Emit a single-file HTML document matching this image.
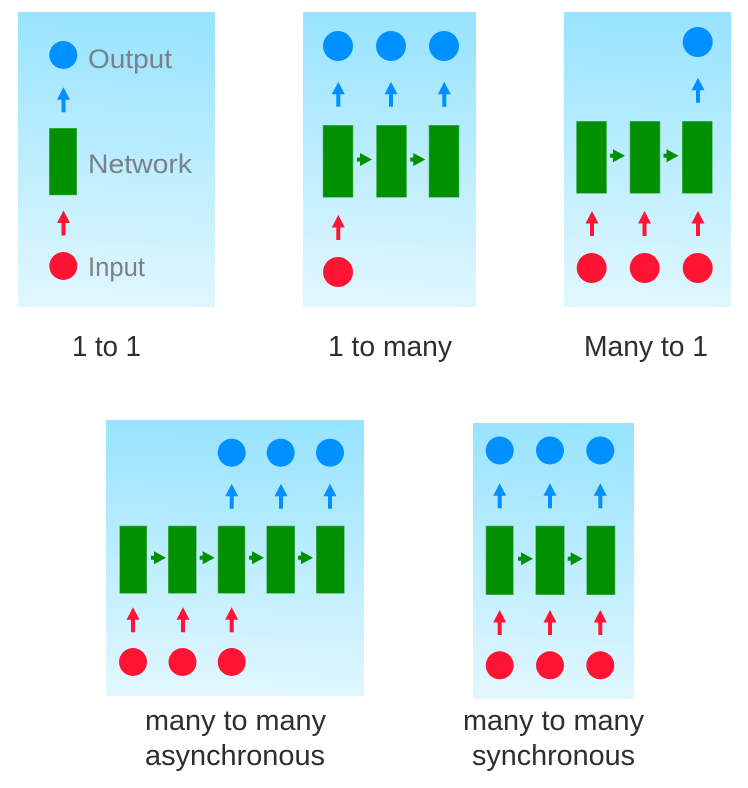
<!DOCTYPE html>
<html lang="en">
<head>
<meta charset="utf-8">
<title>RNN input-output configurations</title>
<style>
html,body{margin:0;padding:0;background:#fff;width:748px;height:788px;overflow:hidden}
svg{display:block}
.c{font-family:"Liberation Sans",sans-serif;font-size:28.6px;fill:#2e2e2e}
.l{font-family:"Liberation Sans",sans-serif;font-size:27px;fill:#7b8186}
.net{fill:#009000;stroke:#4fb85f;stroke-width:.6}
.o{fill:#0090ff}
.i{fill:#ff1433}
.g{fill:#009000}
</style>
</head>
<body>
<svg xmlns="http://www.w3.org/2000/svg" width="748" height="788" viewBox="0 0 748 788">
<defs>
<linearGradient id="sky" x1="0.52" y1="0" x2="0.48" y2="1">
<stop offset="0" stop-color="#97e3ff"/>
<stop offset="1" stop-color="#e1f7ff"/>
</linearGradient>
<g id="up"><path d="M-2 0V-12.5H-6.5L0-25L6.5-12.5H2V0Z"/></g>
<g id="right"><path d="M0-2H3V-6.5L15 0L3 6.5V2H0Z"/></g>
</defs>

<g>
<rect x="18" y="12" width="197" height="295" fill="url(#sky)"/>
<circle class="o" cx="63.3" cy="55" r="14"/>
<use href="#up" class="o" x="63.5" y="112.3"/>
<rect class="net" x="49.3" y="128.3" width="27.4" height="66.7"/>
<use href="#up" class="i" x="63.5" y="235.5"/>
<circle class="i" cx="63.3" cy="266" r="14"/>
<text class="l" x="88" y="68" textLength="84" lengthAdjust="spacingAndGlyphs">Output</text>
<text class="l" x="88" y="173" textLength="104" lengthAdjust="spacingAndGlyphs">Network</text>
<text class="l" x="88" y="276" textLength="57" lengthAdjust="spacingAndGlyphs">Input</text>
</g>
<text class="c" x="72" y="356" textLength="69" lengthAdjust="spacingAndGlyphs">1 to 1</text>

<g>
<rect x="303" y="12" width="173" height="295" fill="url(#sky)"/>
<circle class="o" cx="338" cy="46" r="15"/>
<circle class="o" cx="391" cy="46" r="15"/>
<circle class="o" cx="444" cy="46" r="15"/>
<use href="#up" class="o" x="338.3" y="106.7"/>
<use href="#up" class="o" x="391" y="106.7"/>
<use href="#up" class="o" x="444.3" y="106.7"/>
<rect class="net" x="323" y="125.3" width="30" height="72"/>
<rect class="net" x="376.5" y="125.3" width="30" height="72"/>
<rect class="net" x="429" y="125.3" width="30" height="72"/>
<use href="#right" class="g" x="357" y="159.5"/>
<use href="#right" class="g" x="410.3" y="159.5"/>
<use href="#up" class="i" x="338.3" y="240"/>
<circle class="i" cx="338" cy="272" r="15"/>
</g>
<text class="c" x="328" y="356" textLength="124" lengthAdjust="spacingAndGlyphs">1 to many</text>

<g>
<rect x="564" y="12" width="167" height="295" fill="url(#sky)"/>
<circle class="o" cx="697.7" cy="42" r="15"/>
<use href="#up" class="o" x="698" y="102.7"/>
<rect class="net" x="576.5" y="121.3" width="30" height="72"/>
<rect class="net" x="630" y="121.3" width="30" height="72"/>
<rect class="net" x="682.3" y="121.3" width="30" height="72"/>
<use href="#right" class="g" x="610" y="155.7"/>
<use href="#right" class="g" x="663.5" y="155.7"/>
<use href="#up" class="i" x="592" y="236"/>
<use href="#up" class="i" x="644.5" y="236"/>
<use href="#up" class="i" x="698" y="236"/>
<circle class="i" cx="591.7" cy="268" r="15"/>
<circle class="i" cx="644.7" cy="268" r="15"/>
<circle class="i" cx="697.7" cy="268" r="15"/>
</g>
<text class="c" x="584" y="356" textLength="124" lengthAdjust="spacingAndGlyphs">Many to 1</text>

<g>
<rect x="106" y="420" width="258" height="276" fill="url(#sky)"/>
<circle class="o" cx="231.7" cy="452.7" r="14"/>
<circle class="o" cx="280.7" cy="452.7" r="14"/>
<circle class="o" cx="330" cy="452.7" r="14"/>
<use href="#up" class="o" x="231.7" y="508.7"/>
<use href="#up" class="o" x="281" y="508.7"/>
<use href="#up" class="o" x="330" y="508.7"/>
<rect class="net" x="119.7" y="526" width="27" height="67.3"/>
<rect class="net" x="168.3" y="526" width="28" height="67.3"/>
<rect class="net" x="218" y="526" width="27" height="67.3"/>
<rect class="net" x="266.7" y="526" width="28" height="67.3"/>
<rect class="net" x="316.3" y="526" width="28" height="67.3"/>
<use href="#right" class="g" x="151" y="557.7"/>
<use href="#right" class="g" x="199.7" y="557.7"/>
<use href="#right" class="g" x="249" y="557.7"/>
<use href="#right" class="g" x="298" y="557.7"/>
<use href="#up" class="i" x="133" y="632.3"/>
<use href="#up" class="i" x="183" y="632.3"/>
<use href="#up" class="i" x="231.7" y="632.3"/>
<circle class="i" cx="133" cy="662" r="14"/>
<circle class="i" cx="182.5" cy="662" r="14"/>
<circle class="i" cx="231.7" cy="662" r="14"/>
</g>
<text class="c" x="145" y="730" textLength="181" lengthAdjust="spacingAndGlyphs">many to many</text>
<text class="c" x="145" y="765" textLength="180" lengthAdjust="spacingAndGlyphs">asynchronous</text>

<g>
<rect x="473" y="423" width="161" height="276" fill="url(#sky)"/>
<circle class="o" cx="499.7" cy="450.5" r="14"/>
<circle class="o" cx="550" cy="450.5" r="14"/>
<circle class="o" cx="600.3" cy="450.5" r="14"/>
<use href="#up" class="o" x="499.7" y="508.3"/>
<use href="#up" class="o" x="550" y="508.3"/>
<use href="#up" class="o" x="600.3" y="508.3"/>
<rect class="net" x="486" y="526" width="27.3" height="68.7"/>
<rect class="net" x="535.7" y="526" width="28.6" height="68.7"/>
<rect class="net" x="586.7" y="526" width="28.3" height="68.7"/>
<use href="#right" class="g" x="518" y="558.7"/>
<use href="#right" class="g" x="567.7" y="558.7"/>
<use href="#up" class="i" x="499.7" y="635"/>
<use href="#up" class="i" x="550" y="635"/>
<use href="#up" class="i" x="600.3" y="635"/>
<circle class="i" cx="499.7" cy="665.3" r="14"/>
<circle class="i" cx="550" cy="665.3" r="14"/>
<circle class="i" cx="600.3" cy="665.3" r="14"/>
</g>
<text class="c" x="463" y="730" textLength="181" lengthAdjust="spacingAndGlyphs">many to many</text>
<text class="c" x="472" y="765" textLength="163" lengthAdjust="spacingAndGlyphs">synchronous</text>
</svg>
</body>
</html>
